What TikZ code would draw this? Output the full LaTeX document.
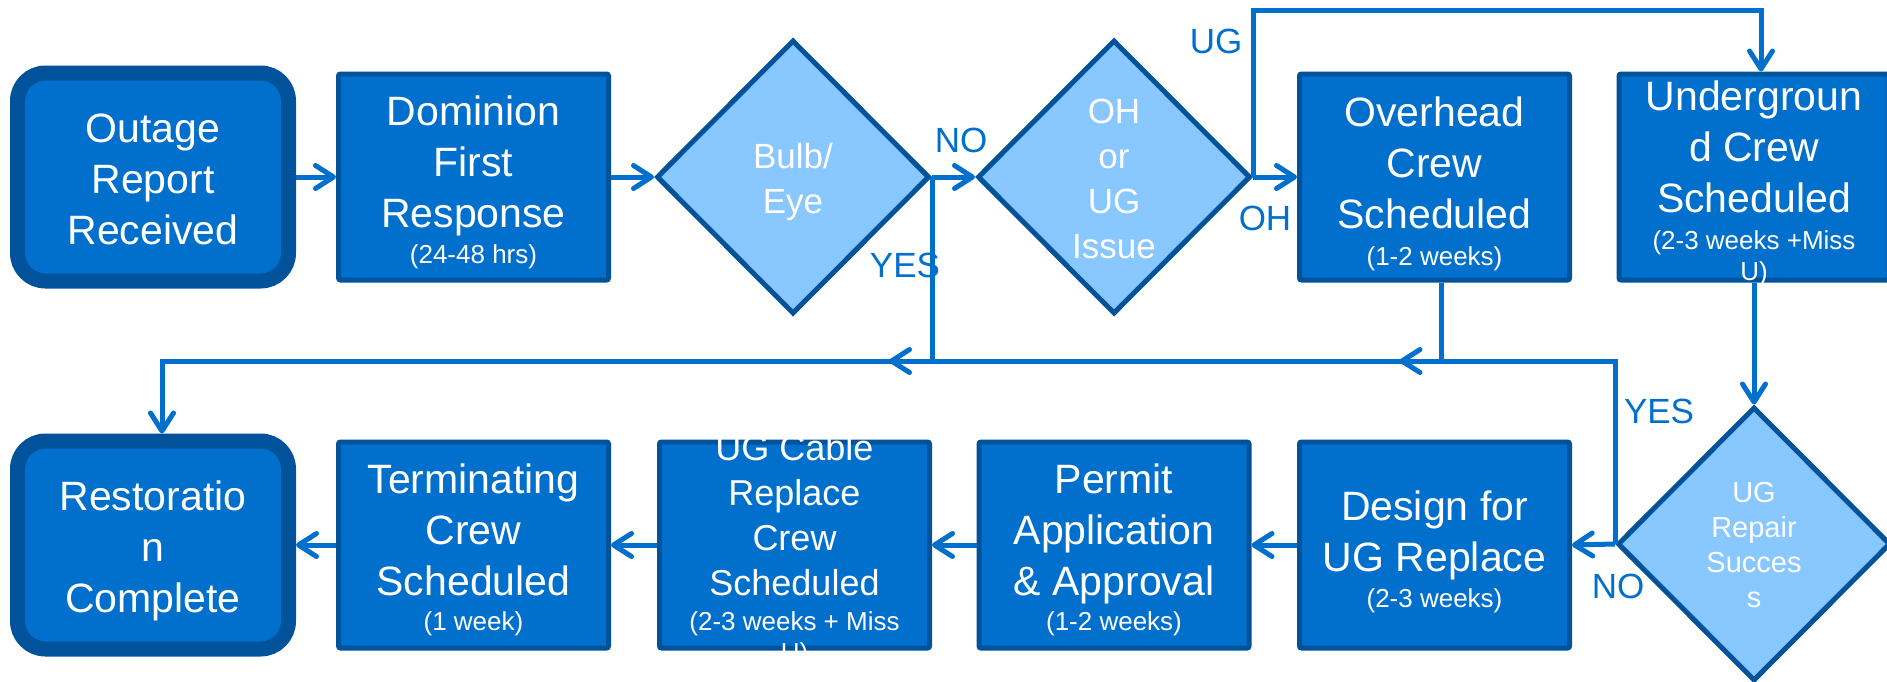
\documentclass[tikz,border=0pt]{standalone}
\usepackage{fontspec}
\setmainfont{Liberation Sans}
\usetikzlibrary{shapes.geometric,arrows.meta,calc}
\definecolor{boxfill}{RGB}{0,112,204}
\definecolor{bdr}{RGB}{0,82,155}
\definecolor{decfill}{RGB}{136,199,255}
\definecolor{lineblue}{RGB}{0,112,204}
\newcommand{\durtxt}[1]{{\fontsize{26}{31}\selectfont #1}}
\newcommand{\firststrut}[1]{\rule{0pt}{#1}}
\begin{document}
\begin{tikzpicture}[x=1pt,y=-1pt,
  procbox/.style={draw=bdr, fill=boxfill, line width=5pt, rounded corners=2pt,
    minimum width=270pt, minimum height=206pt, inner sep=0pt},
  endbox/.style={draw=bdr, fill=boxfill, line width=15pt, rounded corners=28pt,
    minimum width=271pt, minimum height=208pt, inner sep=0pt},
  decbox/.style={diamond, draw=bdr, fill=decfill, line width=5pt,
    minimum width=273pt, minimum height=274pt, inner sep=0pt},
  bigtxt/.style={text=white, align=center, inner sep=0pt, anchor=north,
    font=\fontsize{41}{51}\selectfont},
  ugctxt/.style={text=white, align=center, inner sep=0pt, anchor=north,
    font=\fontsize{36}{45}\selectfont},
  dtxt/.style={text=white, align=center, inner sep=0pt, anchor=north,
    font=\fontsize{35}{45}\selectfont},
  rtxt/.style={text=white, align=center, inner sep=0pt, anchor=north,
    font=\fontsize{29}{35}\selectfont},
  lbl/.style={text=lineblue, inner sep=0pt, anchor=base,
    font=\fontsize{35}{42}\selectfont},
  conn/.style={draw=lineblue, line width=5pt},
  arr/.style={-{Straight Barb[length=18pt,width=23pt,round]}}
]
\fill[white] (0,0) rectangle (1887,681);
\useasboundingbox (0,0) rectangle (1887,681);

% shapes
\node[endbox]  (out)  at (153,177) {};
\node[procbox] (dom)  at (473.5,177) {};
\node[decbox]  (bulb) at (793,177) {};
\node[decbox]  (oh)   at (1114,177) {};
\node[procbox] (ov)   at (1434.5,177) {};
\node[procbox] (ug)   at (1754,177) {};

\node[endbox]  (rest) at (153,545) {};
\node[procbox] (term) at (473.5,545) {};
\node[procbox] (ugc)  at (794.5,545) {};
\node[procbox] (per)  at (1114,545) {};
\node[procbox] (des)  at (1434.5,545) {};
\node[decbox]  (rep)  at (1754,544) {};

% texts
\node[bigtxt] (t-out) at (153,110) {\firststrut{32pt}Outage\\Report\\Received};
\node[bigtxt] (t-dom) at (473.5,93) {\firststrut{32pt}Dominion\\First\\Response\\[-15pt]\durtxt{(24-48 hrs)}};
\node[dtxt] (t-bulb) at (793,141) {\firststrut{27pt}Bulb/\\Eye};
\node[dtxt] (t-oh) at (1114,96) {\firststrut{27pt}OH\\or\\UG\\Issue};
\node[bigtxt] (t-ov) at (1434.5,94) {\firststrut{32pt}Overhead\\Crew\\Scheduled\\[-14pt]\durtxt{(1-2 weeks)}};
\node[bigtxt] (t-ug) at (1754,78) {\firststrut{32pt}Undergroun\\d Crew\\Scheduled\\[-14pt]\durtxt{(2-3 weeks +Miss}\\[-20pt]\durtxt{U)}};

\node[bigtxt] (t-rest) at (153,478) {\firststrut{32pt}Restoratio\\n\\Complete};
\node[bigtxt] (t-term) at (473.5,461) {\firststrut{32pt}Terminating\\Crew\\Scheduled\\[-16pt]\durtxt{(1 week)}};
\node[ugctxt] (t-ugc) at (794.5,432) {\firststrut{28pt}UG Cable\\Replace\\Crew\\Scheduled\\[-10pt]\durtxt{(2-3 weeks + Miss}\\[-14pt]\durtxt{U)}};
\node[bigtxt] (t-per) at (1114,461) {\firststrut{32pt}Permit\\Application\\\& Approval\\[-16pt]\durtxt{(1-2 weeks)}};
\node[bigtxt] (t-des) at (1434.5,488) {\firststrut{32pt}Design for\\UG Replace\\[-15pt]\durtxt{(2-3 weeks)}};
\node[rtxt] (t-rep) at (1754,480) {\firststrut{22pt}UG\\Repair\\Succes\\s};

% helper coordinates
\coordinate (busL) at (162,361);
\coordinate (topy) at (0,10);

% connectors
\draw[conn,arr] (out.east) -- (dom.west);
\draw[conn,arr] (dom.east) -- (bulb.west);
\draw[conn,arr] (bulb.east) -- (oh.west);
\draw[conn] (bulb.east) -- (bulb.east |- busL);
\draw[conn,arr] (bulb.east |- busL) -- ++(-43,0);
\draw[conn,arr] (oh.east) -- (ov.west);
\draw[conn,arr] (oh.east) -- (oh.east |- topy) -| ([xshift=7pt]ug.north);
\draw[conn] ([xshift=7pt]ov.south) -- ([xshift=7pt]ov.south |- busL);
\draw[conn,arr] ([xshift=7pt]ov.south |- busL) -- ++(-42,0);
\draw[conn,arr] (ug.south) -- (rep.north);
\draw[conn,arr] (rep.west) |- (busL) -- (busL |- rest.north);
\draw[conn,arr] (rep.west) -- (des.east);
\draw[conn,arr] (des.west) -- (per.east);
\draw[conn,arr] (per.west) -- (ugc.east);
\draw[conn,arr] (ugc.west) -- (term.east);
\draw[conn,arr] (term.west) -- (rest.east);

% labels
\node[lbl] (l-no1)  at (961,152) {NO};
\node[lbl] (l-yes1) at (905,277) {YES};
\node[lbl] (l-ug)   at (1216,53) {UG};
\node[lbl] (l-oh)   at (1265,230) {OH};
\node[lbl] (l-yes2) at (1659,423) {YES};
\node[lbl] (l-no2)  at (1618,598) {NO};
\end{tikzpicture}
\end{document}
